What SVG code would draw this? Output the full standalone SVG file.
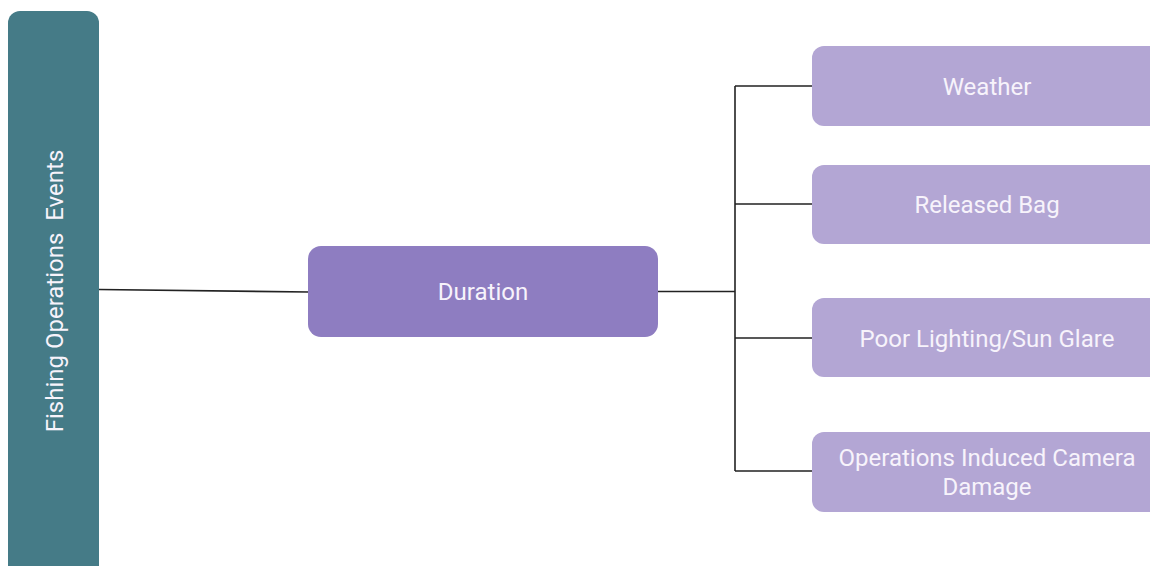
<svg xmlns="http://www.w3.org/2000/svg" width="1150" height="566" viewBox="0 0 1150 566">
<style>
.t{font-family:Roboto,"Liberation Sans",sans-serif;font-size:24px;font-weight:400;fill:#f7f3fb;text-anchor:middle;dominant-baseline:central;white-space:pre}
.c{fill:none;stroke:#222;stroke-width:1.6}
.child{fill:#b3a6d4}
</style>
<rect width="1150" height="566" fill="#fff"/>
<g id="connectors">
<path class="c" d="M99 289.5 L309 292"/>
<path class="c" d="M658 291.5 H735 M735 86 V471 M735 86 H813 M735 204 H813 M735 338 H813 M735 471 H813"/>
</g>
<g id="node-events">
<rect x="8" y="11" width="91" height="580" rx="12" fill="#457b87"/>
<text class="t" xml:space="preserve" transform="translate(55 291) rotate(-90)">Fishing Operations  Events</text>
</g>
<g id="node-duration">
<rect x="308" y="246" width="350" height="91" rx="13" fill="#8e7dc1"/>
<text class="t" x="483" y="292">Duration</text>
</g>
<g id="node-weather">
<rect class="child" x="812" y="46" width="360" height="80" rx="12"/>
<text class="t" x="987" y="87">Weather</text>
</g>
<g id="node-released">
<rect class="child" x="812" y="165" width="360" height="79" rx="12"/>
<text class="t" x="987" y="205">Released Bag</text>
</g>
<g id="node-lighting">
<rect class="child" x="812" y="298" width="360" height="79" rx="12"/>
<text class="t" x="987" y="339">Poor Lighting/Sun Glare</text>
</g>
<g id="node-damage">
<rect class="child" x="812" y="432" width="360" height="80" rx="12"/>
<text class="t" x="987" y="458">Operations Induced Camera</text>
<text class="t" x="987" y="487">Damage</text>
</g>
</svg>
